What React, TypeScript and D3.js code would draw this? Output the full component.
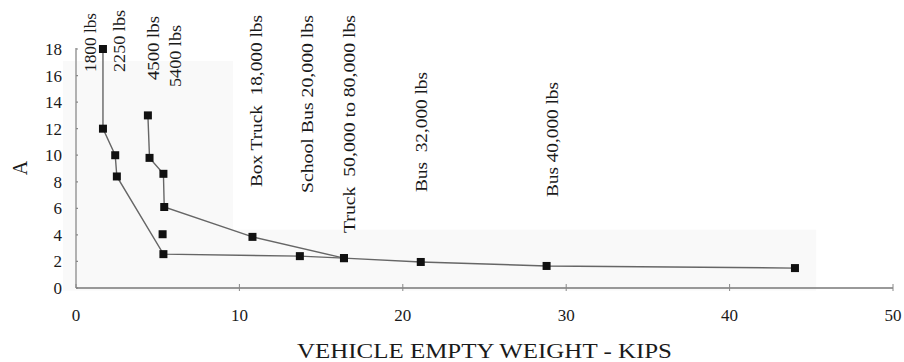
import React from "react";
import * as d3 from "d3";

// Vehicle empty weight (kips) vs. factor A
const yTicks = [0, 2, 4, 6, 8, 10, 12, 14, 16, 18];
const xTicks = [0, 10, 20, 30, 40, 50];

// Light-vehicle curve
const lightX = [1.65, 1.65, 2.4, 2.5, 5.35, 13.7, 16.4];
const lightY = [18, 12, 10, 8.4, 2.55, 2.4, 2.25];

// Heavier-vehicle curve
const heavyX = [4.4, 4.5, 5.35, 5.4, 10.8, 16.4, 21.1, 28.8, 44.0];
const heavyY = [13, 9.8, 8.6, 6.1, 3.85, 2.25, 1.96, 1.66, 1.5];

// Stand-alone point
const loneX = [5.3];
const loneY = [4.05];

// Vehicle annotations: text, x position (kips), lower end of text (A units), drawn length (px)
const labelText = [
  "1800 lbs",
  "2250 lbs",
  "4500 lbs",
  "5400 lbs",
  "Box Truck  18,000 lbs",
  "School Bus 20,000 lbs",
  "Truck  50,000 to 80,000 lbs",
  "Bus  32,000 lbs",
  "Bus 40,000 lbs",
];
const labelX = [1.22, 3.0, 5.08, 6.43, 11.39, 14.51, 17.08, 21.49, 29.52];
const labelY = [16.27, 16.27, 15.66, 15.14, 7.6, 7.15, 4.14, 7.23, 6.85];
const labelLen = [59, 62, 64, 62, 172, 178, 218, 120, 115];

const W = 904;
const H = 362;
const FONT = "'Liberation Serif', 'Times New Roman', serif";

export default function App() {
  const x = d3.scaleLinear().domain([0, 50]).range([76, 893]);
  const y = d3.scaleLinear().domain([0, 18]).range([288, 49]);

  const line = d3
    .line<[number, number]>()
    .x((d) => x(d[0]))
    .y((d) => y(d[1]));

  const light: [number, number][] = lightX.map((v, i) => [v, lightY[i]]);
  const heavy: [number, number][] = heavyX.map((v, i) => [v, heavyY[i]]);
  const lone: [number, number][] = loneX.map((v, i) => [v, loneY[i]]);
  const allPts = [...light, ...heavy, ...lone];

  const sq = 8;

  return (
    <svg
      width={W}
      height={H}
      style={{ position: "fixed", left: 0, top: 0, background: "#fff" }}
      fontFamily={FONT}
    >
      {/* faint plot-area shading */}
      <rect x={x(-0.8)} y={y(17.1)} width={x(9.6) - x(-0.8)} height={y(-0.2) - y(17.1)} fill="#f9f9f9" />
      <rect x={x(9.6)} y={y(4.4)} width={x(45.3) - x(9.6)} height={y(-0.2) - y(4.4)} fill="#f9f9f9" />

      {/* y axis */}
      <line x1={x(0)} x2={x(0)} y1={y(0)} y2={y(18) - 1} stroke="#999" strokeWidth={1.5} />
      {yTicks.map((t) => (
        <g key={"y" + t}>
          <line x1={x(0)} x2={x(0) + 2} y1={y(t)} y2={y(t)} stroke="#888" strokeWidth={1.2} />
          <text x={62} y={y(t) + 6} textAnchor="end" fontSize={17} fill="#1a1a1a">
            {t}
          </text>
        </g>
      ))}

      {/* x axis */}
      <line x1={x(0)} x2={x(50)} y1={y(0)} y2={y(0)} stroke="#777" strokeWidth={1.5} />
      {xTicks.map((t) => (
        <g key={"x" + t}>
          <line x1={x(t)} x2={x(t)} y1={y(0) - 4} y2={y(0) + (t === 0 ? 0 : 3)} stroke="#888" strokeWidth={1} />
          <text x={x(t)} y={321} textAnchor="middle" fontSize={17} fill="#1a1a1a">
            {t}
          </text>
        </g>
      ))}

      {/* curves */}
      <path d={line(light) ?? ""} fill="none" stroke="#666" strokeWidth={1.4} />
      <path d={line(heavy) ?? ""} fill="none" stroke="#666" strokeWidth={1.4} />

      {/* markers */}
      {allPts.map((p, i) => (
        <rect key={"p" + i} x={x(p[0]) - sq / 2} y={y(p[1]) - sq / 2} width={sq} height={sq} fill="#111" />
      ))}

      {/* vehicle annotations */}
      {labelText.map((s, i) => (
        <text
          key={"l" + i}
          transform={`translate(${x(labelX[i])},${y(labelY[i])}) rotate(-90)`}
          fontSize={17}
          fill="#1a1a1a"
          textLength={labelLen[i]}
          lengthAdjust="spacingAndGlyphs"
          style={{ whiteSpace: "pre" }}
        >
          {s}
        </text>
      ))}

      {/* axis titles */}
      <text
        x={(x(0) + x(50)) / 2}
        y={358}
        textAnchor="middle"
        fontSize={21}
        fill="#1a1a1a"
        textLength={375}
        lengthAdjust="spacingAndGlyphs"
      >
        VEHICLE EMPTY WEIGHT - KIPS
      </text>
      <text transform={`translate(27,168) rotate(-90)`} textAnchor="middle" fontSize={20} fill="#1a1a1a">
        A
      </text>
    </svg>
  );
}
